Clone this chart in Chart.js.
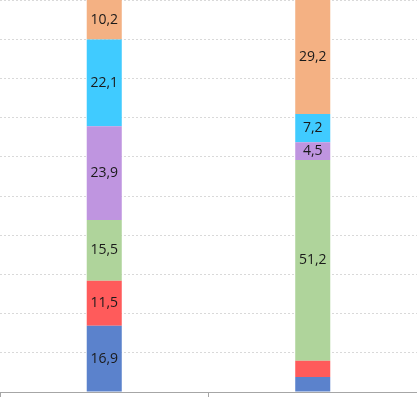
<!DOCTYPE html>
<html>
<head>
<meta charset="utf-8">
<script src="https://cdn.jsdelivr.net/npm/chart.js@4.4.1/dist/chart.umd.min.js"></script>
<style>
  html, body { margin: 0; padding: 0; background: #fff; }
  #wrap { width: 417px; height: 397px; }
</style>
</head>
<body>
<div id="wrap"><canvas id="can"></canvas></div>
<script>
// categories (labels are not visible in the picture)
const categories = ['1', '2'];

// stacked series, bottom to top
const s_blue   = [16.9, 3.8];
const s_red    = [11.5, 4.2];
const s_green  = [15.5, 51.2];
const s_purple = [23.9, 4.5];
const s_cyan   = [22.1, 7.2];
const s_orange = [10.2, 29.2];

const seriesNames = ['Серия 1', 'Серия 2', 'Серия 3', 'Серия 4', 'Серия 5', 'Серия 6'];
const seriesColors = ['#5b82cc', '#ff5b5b', '#afd49b', '#bf95e0', '#40cbff', '#f4b183'];

// small segments get no label
const minLabelValue = 4.5;

const segLabels = {
    id: 'segLabels',
    afterDatasetsDraw(chart) {
        const ctx = chart.ctx;
        ctx.save();
        ctx.font = '14px "Open Sans", sans-serif';
        ctx.fillStyle = '#1a1a1a';
        ctx.textAlign = 'center';
        ctx.textBaseline = 'middle';
        chart.data.datasets.forEach((ds, i) => {
            const meta = chart.getDatasetMeta(i);
            meta.data.forEach((bar, j) => {
                const v = ds.data[j];
                if (v < minLabelValue) return;
                const p = bar.getProps(['x', 'y', 'base'], true);
                ctx.fillText(v.toFixed(1).replace('.', ','), p.x, (p.y + p.base) / 2);
            });
        });
        ctx.restore();
    }
};

const allSeries = [s_blue, s_red, s_green, s_purple, s_cyan, s_orange];

new Chart(document.getElementById('can'), {
    type: 'bar',
    data: {
        labels: categories,
        datasets: allSeries.map((d, i) => ({
            label: seriesNames[i],
            data: d,
            backgroundColor: seriesColors[i],
            borderWidth: 0,
            categoryPercentage: 1,
            barPercentage: 0.168
        }))
    },
    options: {
        responsive: true,
        maintainAspectRatio: false,
        animation: false,
        layout: { padding: 0 },
        plugins: {
            legend: { display: false },
            tooltip: { enabled: false }
        },
        scales: {
            x: {
                stacked: true,
                ticks: { display: false },
                grid: { drawOnChartArea: false, tickLength: 5, color: '#a6a6a6' },
                border: { color: '#a6a6a6' }
            },
            y: {
                stacked: true,
                min: 0,
                max: 100,
                ticks: { display: false, stepSize: 10 },
                grid: { drawTicks: false, color: '#d9d9d9' },
                border: { display: false, dash: [2, 2] }
            }
        }
    },
    plugins: [segLabels]
});
</script>
</body>
</html>
